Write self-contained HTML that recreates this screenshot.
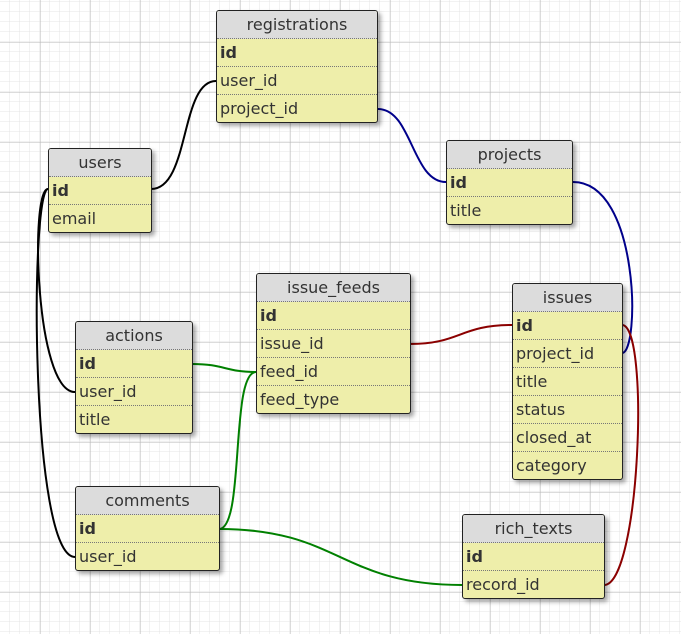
<!DOCTYPE html>
<html><head><meta charset="utf-8"><style>
body{margin:0;width:681px;height:634px;overflow:hidden;background:#fff;font-family:"DejaVu Sans","Liberation Sans",sans-serif;}
svg{position:absolute;left:0;top:0}
.t{position:absolute;border:1px solid #222;border-radius:3px;background:#eeeeaa;box-shadow:3px 3px 4px rgba(0,0,0,.35);overflow:hidden;font-size:16px;color:#333}
.t .h{height:27px;line-height:27px;background:#dcdcdc;text-align:center;border-bottom:1px dotted #777}
.t .r{height:27px;line-height:27px;padding-left:3px;border-bottom:1px dotted #777;white-space:nowrap}
.t .r:last-child{border-bottom:none}
.t .b{font-weight:bold}
</style></head><body>
<svg width="681" height="634">
<defs>
<pattern id="mn" x="0" y="2" width="10" height="10" patternUnits="userSpaceOnUse"><path d="M10 0V10M0 10H10" stroke="#e4e4e4" stroke-width="1" fill="none"/></pattern>
<pattern id="mj" x="40.5" y="42.5" width="50" height="50" patternUnits="userSpaceOnUse"><path d="M0 0V50M0 0H50" stroke="#b8b8b8" stroke-width="1" fill="none"/></pattern>
</defs>
<rect width="681" height="634" fill="url(#mn)"/>
<rect width="681" height="634" fill="url(#mj)"/>
<g fill="none" stroke-width="2">
<path d="M151 189 C190 189,180 81,216 81" stroke="#000"/>
<path d="M48 189 C30 189,35 392,75 392" stroke="#000"/>
<path d="M48 189 C30 189,30 557,75 557" stroke="#000"/>
<path d="M378 109 C412 109,412 182,446 182" stroke="#00008b"/>
<path d="M573 182 C640 182,640 353,622 353" stroke="#00008b"/>
<path d="M410 344 C460 344,460 325,512 325" stroke="#8b0000"/>
<path d="M622 325 C650 325,640 585,604 585" stroke="#8b0000"/>
<path d="M192 364 C225 364,225 372,256 372" stroke="#008000"/>
<path d="M219 529 C245 529,230 372,256 372" stroke="#008000"/>
<path d="M219 529 C340 529,340 585,462 585" stroke="#008000"/>
</g>
</svg>
<div class="t" style="left:216px;top:10px;width:160px"><div class="h">registrations</div><div class="r b">id</div><div class="r">user_id</div><div class="r">project_id</div></div>
<div class="t" style="left:48px;top:148px;width:102px"><div class="h">users</div><div class="r b">id</div><div class="r">email</div></div>
<div class="t" style="left:446px;top:140px;width:125px"><div class="h">projects</div><div class="r b">id</div><div class="r">title</div></div>
<div class="t" style="left:256px;top:273px;width:153px"><div class="h">issue_feeds</div><div class="r b">id</div><div class="r">issue_id</div><div class="r">feed_id</div><div class="r">feed_type</div></div>
<div class="t" style="left:512px;top:283px;width:109px"><div class="h">issues</div><div class="r b">id</div><div class="r">project_id</div><div class="r">title</div><div class="r">status</div><div class="r">closed_at</div><div class="r">category</div></div>
<div class="t" style="left:75px;top:321px;width:116px"><div class="h">actions</div><div class="r b">id</div><div class="r">user_id</div><div class="r">title</div></div>
<div class="t" style="left:75px;top:486px;width:143px"><div class="h">comments</div><div class="r b">id</div><div class="r">user_id</div></div>
<div class="t" style="left:462px;top:514px;width:141px"><div class="h">rich_texts</div><div class="r b">id</div><div class="r">record_id</div></div>
</body></html>
